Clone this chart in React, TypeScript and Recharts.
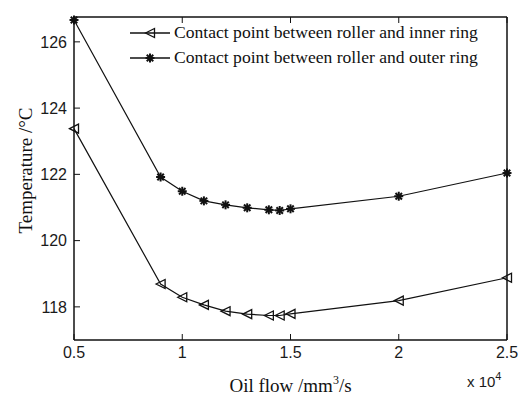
import React from 'react';
import { LineChart, Line, XAxis, YAxis, Legend, Label } from 'recharts';

// oil flow (x 10^4 mm^3/s)
const oilFlow = [0.5, 0.9, 1.0, 1.1, 1.2, 1.3, 1.4, 1.45, 1.5, 2.0, 2.5];
// temperature at roller / inner ring contact (°C)
const innerRing = [123.38, 118.69, 118.29, 118.06, 117.87, 117.78, 117.74, 117.74, 117.79, 118.19, 118.88];
// temperature at roller / outer ring contact (°C)
const outerRing = [126.66, 121.92, 121.49, 121.2, 121.08, 120.99, 120.93, 120.91, 120.96, 121.34, 122.04];

const xTicks = [0.5, 1, 1.5, 2, 2.5];
const yTicks = [118, 120, 122, 124, 126];

const seriesNames = {
  inner: 'Contact point between roller and inner ring',
  outer: 'Contact point between roller and outer ring',
};

const data = oilFlow.map((x, i) => ({ x, inner: innerRing[i], outer: outerRing[i] }));

const SERIF = '"Liberation Serif", "Times New Roman", serif';
const SANS = '"Liberation Sans", Arial, sans-serif';

const Triangle = ({ cx, cy }: { cx: number; cy: number }) => (
  <polygon
    points={`${cx - 4.5},${cy} ${cx + 4.5},${cy - 4.5} ${cx + 4.5},${cy + 4.5}`}
    fill="none"
    stroke="#111"
    strokeWidth={1.3}
  />
);

const Star = ({ cx, cy }: { cx: number; cy: number }) => {
  const r = 4.5;
  const d = r * 0.72;
  return (
    <g stroke="#111" strokeWidth={2}>
      <line x1={cx} y1={cy - r} x2={cx} y2={cy + r} />
      <line x1={cx - r} y1={cy} x2={cx + r} y2={cy} />
      <line x1={cx - d} y1={cy - d} x2={cx + d} y2={cy + d} />
      <line x1={cx - d} y1={cy + d} x2={cx + d} y2={cy - d} />
    </g>
  );
};

const renderLegend = (props: any) => {
  const items = props.payload || [];
  return (
    <div>
      {items.map((it: any) => (
        <div key={it.dataKey} style={{ display: 'flex', alignItems: 'center', height: 25 }}>
          <svg width={44} height={14}>
            <line x1={2} y1={7} x2={42} y2={7} stroke="#111" strokeWidth={1.3} />
            {it.dataKey === 'inner' ? <Triangle cx={22} cy={7} /> : <Star cx={22} cy={7} />}
          </svg>
          <span style={{ fontFamily: SERIF, fontSize: 17.6, color: '#111', marginLeft: 2 }}>{it.value}</span>
        </div>
      ))}
    </div>
  );
};

const tickStyle = { fontFamily: SANS, fontSize: 16, fill: '#1a1a1a' };

export default function App() {
  return (
    <div style={{ position: 'absolute', left: 0, top: 0, width: 530, height: 396, background: '#fff' }}>
      <LineChart width={530} height={396} data={data} margin={{ top: 0, right: 0, bottom: 0, left: 0 }}>
        <XAxis
          dataKey="x"
          type="number"
          domain={[0.5, 2.5]}
          ticks={xTicks}
          interval={0}
          height={56}
          tickSize={-6}
          tickMargin={13}
          stroke="#111"
          strokeWidth={1.5}
          tick={tickStyle}
          tickLine={{ stroke: '#111', strokeWidth: 1 }}
        >
          <Label
            content={(p: any) => {
              const vb = p.viewBox;
              return (
                <g>
                  <text x={vb.x + vb.width / 2} y={vb.y + 52} textAnchor="middle" fontFamily={SERIF} fontSize={19} fill="#111">
                    Oil flow /mm
                    <tspan dy={-8} fontSize={12}>3</tspan>
                    <tspan dy={8}>/s</tspan>
                  </text>
                  <text x={vb.x + vb.width - 40} y={vb.y + 47} fontFamily={SANS} fontSize={15} fill="#1a1a1a">
                    x 10
                    <tspan dy={-7} fontSize={11}>4</tspan>
                  </text>
                </g>
              );
            }}
          />
        </XAxis>
        <XAxis
          xAxisId="top"
          dataKey="x"
          type="number"
          orientation="top"
          domain={[0.5, 2.5]}
          ticks={xTicks}
          interval={0}
          height={17}
          tickSize={-6}
          tickFormatter={() => ''}
          stroke="#111"
          strokeWidth={1.5}
          tickLine={{ stroke: '#111', strokeWidth: 1 }}
        />
        <YAxis
          type="number"
          domain={[117, 126.75]}
          ticks={yTicks}
          interval={0}
          width={74}
          tickSize={-6}
          tickMargin={13}
          stroke="#111"
          strokeWidth={1.5}
          tick={tickStyle}
          tickLine={{ stroke: '#111', strokeWidth: 1 }}
        >
          <Label
            content={(p: any) => {
              const vb = p.viewBox;
              const cx = 25;
              const cy = vb.y + vb.height / 2 - 8;
              return (
                <text
                  x={cx}
                  y={cy}
                  transform={`rotate(-90 ${cx} ${cy})`}
                  textAnchor="middle"
                  dominantBaseline="central"
                  fontFamily={SERIF}
                  fontSize={19}
                  fill="#111"
                >
                  Temperature /°C
                </text>
              );
            }}
          />
        </YAxis>
        <YAxis
          yAxisId="right"
          type="number"
          orientation="right"
          domain={[117, 126.75]}
          ticks={yTicks}
          interval={0}
          width={23}
          tickSize={-6}
          tickFormatter={() => ''}
          stroke="#111"
          strokeWidth={1.5}
          tickLine={{ stroke: '#111', strokeWidth: 1 }}
        />
        <Legend
          layout="vertical"
          align="center"
          verticalAlign="middle"
          content={renderLegend}
          wrapperStyle={{ left: 128, top: 20, width: 390 }}
        />
        <Line
          dataKey="inner"
          name={seriesNames.inner}
          stroke="#111"
          strokeWidth={1.2}
          isAnimationActive={false}
          dot={(p: any) => <Triangle key={`i${p.index}`} cx={p.cx} cy={p.cy} />}
        />
        <Line
          dataKey="outer"
          name={seriesNames.outer}
          stroke="#111"
          strokeWidth={1.2}
          isAnimationActive={false}
          dot={(p: any) => <Star key={`o${p.index}`} cx={p.cx} cy={p.cy} />}
        />
      </LineChart>
    </div>
  );
}
